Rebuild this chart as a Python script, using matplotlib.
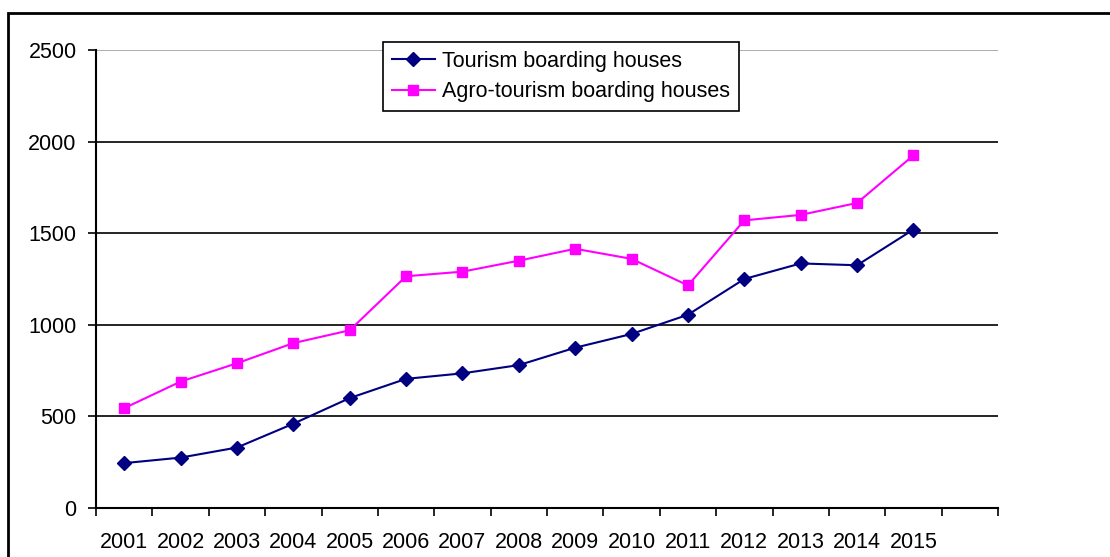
import matplotlib.pyplot as plt
from matplotlib.patches import Rectangle

plt.rcParams['font.family'] = ['Liberation Sans', 'DejaVu Sans']

years = ["2001", "2002", "2003", "2004", "2005", "2006", "2007", "2008",
         "2009", "2010", "2011", "2012", "2013", "2014", "2015"]
tourism = [245, 275, 330, 460, 600, 705, 735, 780, 875, 950, 1055, 1250, 1335, 1325, 1520]
agro = [545, 690, 790, 900, 970, 1265, 1290, 1350, 1415, 1360, 1215, 1570, 1600, 1665, 1925]
y_ticks = [0, 500, 1000, 1500, 2000, 2500]

fig = plt.figure(figsize=(11.1, 5.57), dpi=100)
ax = fig.add_axes([96/1110, 1-508/557, (998-96)/1110, (508-50)/557])

# outer frame around the chart
fig.patches.append(Rectangle((8/1110, -0.1), 1.2, 1-13/557+0.1, transform=fig.transFigure,
                             fill=False, edgecolor="black", linewidth=2))

x = [i + 0.5 for i in range(len(years))]
ax.plot(x, tourism, color="#000080", marker="D", markersize=7, linewidth=1.5,
        label="Tourism boarding houses", zorder=3)
ax.plot(x, agro, color="#FF00FF", marker="s", markersize=7, linewidth=1.5,
        label="Agro-tourism boarding houses", zorder=3)

ax.set_xlim(0, len(years) + 1)
ax.set_ylim(0, 2500)
ax.set_yticks(y_ticks)
for v in y_ticks[1:-1]:
    ax.axhline(v, color="black", linewidth=1.2, zorder=1)
ax.axhline(2500, color="#A0A0A0", linewidth=1.2, zorder=1)

ax.set_xticks(range(len(years) + 2))
ax.set_xticklabels([])
ax.set_xticks(x, minor=True)
ax.set_xticklabels(years, minor=True, fontsize=15.5)
ax.tick_params(axis="x", which="major", direction="out", length=6, width=1.2)
ax.tick_params(axis="x", which="minor", length=0, pad=17)
ax.tick_params(axis="y", direction="out", length=6, width=1.2, labelsize=15.5, pad=8)

for s in ["top", "right"]:
    ax.spines[s].set_visible(False)
ax.spines["left"].set_linewidth(1.5)
ax.spines["bottom"].set_linewidth(1.5)

leg = ax.legend(loc="upper left", bbox_to_anchor=(383/1110, 1-42/557),
                bbox_transform=fig.transFigure, borderaxespad=0, fontsize=15.5,
                fancybox=False, edgecolor="black", framealpha=1,
                handlelength=2.0, handletextpad=0.35, labelspacing=0.45, borderpad=0.4)
leg.get_frame().set_linewidth(1.2)

fig.savefig("out.png", dpi=100)
